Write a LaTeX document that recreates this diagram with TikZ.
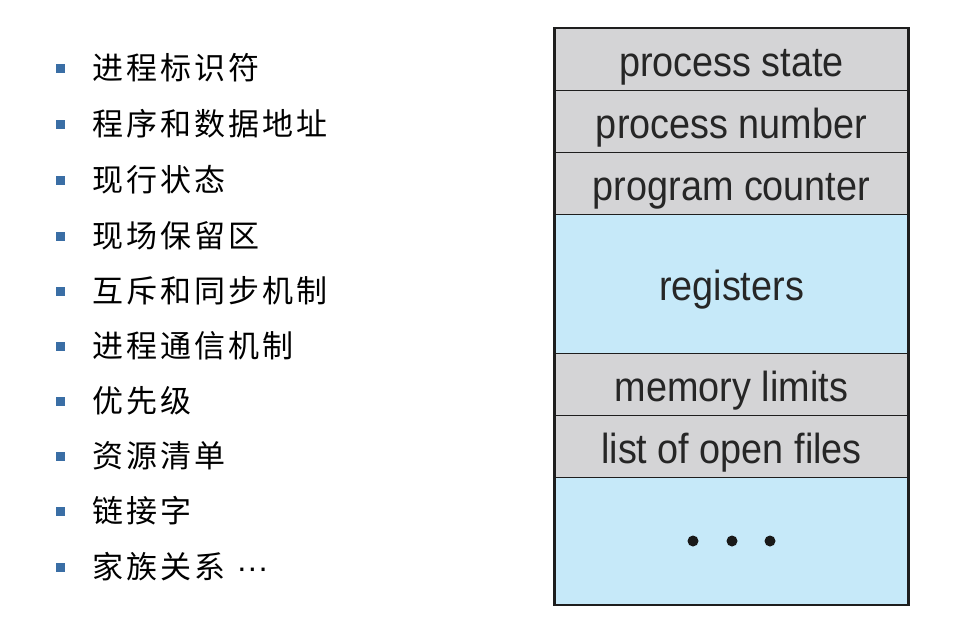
\documentclass[tikz,border=0pt]{standalone}
\usepackage{fontspec}
\setmainfont{Liberation Sans}
\newfontfamily\cjk[LetterSpace=10]{Noto Sans CJK SC}
\newcommand\rowtxt[1]{\scalebox{0.9}[1]{#1}}
\definecolor{bulletblue}{HTML}{3A6EA5}
\definecolor{rowgrey}{HTML}{D4D4D6}
\definecolor{rowblue}{HTML}{C6E9F9}
\definecolor{edge}{HTML}{1E1E1E}
\begin{document}
\begin{tikzpicture}[x=1pt,y=-1pt,
  bul/.style={fill=bulletblue,minimum size=9pt,inner sep=0pt,draw=none},
  item/.style={anchor=west,inner sep=0pt,font=\cjk\fontsize{31}{33}\selectfont},
  row/.style={draw=edge,line width=1.3pt,minimum width=353pt,anchor=north,inner sep=0pt,
    font=\fontsize{42}{46}\selectfont,text=black!85,text height=33pt,text depth=0pt},
  grey/.style={row,fill=rowgrey},
  blue/.style={row,fill=rowblue},
  dot/.style={circle,fill=black!90,minimum size=11pt,inner sep=0pt}]
\useasboundingbox (0,0) rectangle (974,629);
\foreach \y/\t [count=\i] in {68/进程标识符,124/程序和数据地址,180/现行状态,236/现场保留区,291/互斥和同步机制,346/进程通信机制,401/优先级,456/资源清单,511/链接字}{
  \node[bul] (b\i) at (60,\y) {};
  \node[item] (t\i) at (92,\y) {\t};
}
\node[bul] (b10) at (60,567) {};
\node[item] (t10) at (92,567) {家族关系{\rmfamily\fontsize{32}{34}\selectfont\hspace{11pt}···}};
\node[grey,minimum height=62pt] (r1) at (731.5,28) {\rowtxt{process state}};
\node[grey,minimum height=62pt] (r2) at (731.5,90) {\rowtxt{process number}};
\node[grey,minimum height=62pt] (r3) at (731.5,152) {\rowtxt{program counter}};
\node[blue,minimum height=139pt] (r4) at (731.5,214) {\rowtxt{registers}};
\node[grey,minimum height=62pt] (r5) at (731.5,353) {\rowtxt{memory limits}};
\node[grey,minimum height=62pt] (r6) at (731.5,415) {\rowtxt{list of open files}};
\node[blue,minimum height=127pt] (r7) at (731.5,477) {};
\node[dot] (d1) at (693,541) {};
\node[dot] (d2) at (732,541) {};
\node[dot] (d3) at (770,541) {};
\draw[edge,line width=2pt] (r1.north west) rectangle (r7.south east);
\end{tikzpicture}
\end{document}
